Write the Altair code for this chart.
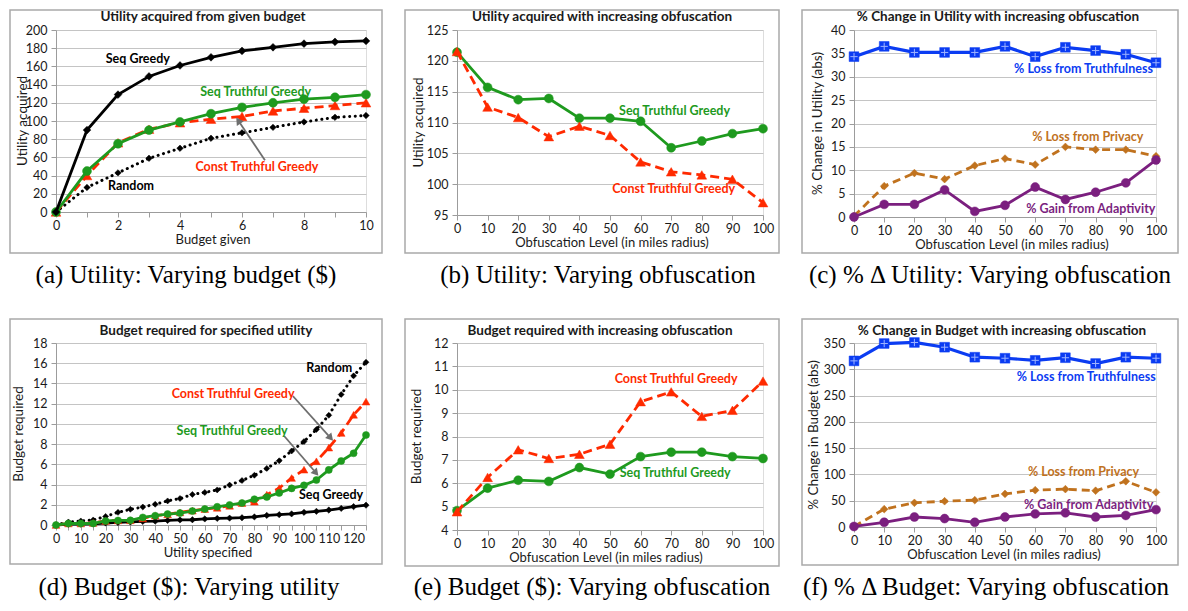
import math
import altair as alt
import pandas as pd

SANS = "Lato"
SERIF = "Liberation Serif"
GRID = "#c4c4c4"
AXIS = "#9c9c9c"
FRAME = "#a9a9a9"
LABEL = "#1a1a1a"
BLACK = "#000000"
GREEN = "#1e9a1e"
RED = "#ff2a00"
BLUE = "#0b3cf2"
BROWN = "#c0721e"
PURPLE = "#7b1f7f"
ARROW = "#6e6e6e"

# ---------------- data ----------------
budget = list(range(11))
a_seq_greedy = [0, 90, 129, 149, 161, 170, 177, 181, 185, 187, 188]
a_seq_truthful = [0, 45, 75, 90, 99, 108, 115, 120, 124, 126, 129]
a_const_truthful = [0, 40, 76, 91, 98, 102, 105, 111, 114, 117, 120]
a_random = [0, 27, 43, 59, 70, 81, 87, 93, 99, 104, 106]

obf = list(range(0, 101, 10))
b_seq_truthful = [121.4, 115.7, 113.7, 113.9, 110.7, 110.7, 110.2, 105.9, 107.0, 108.2, 109.0]
b_const_truthful = [121.5, 112.5, 110.8, 107.7, 109.4, 107.9, 103.6, 102.0, 101.5, 100.8, 97.0]

c_truthfulness = [34.3, 36.5, 35.2, 35.2, 35.2, 36.5, 34.3, 36.3, 35.6, 34.8, 33.0]
c_privacy = [0.2, 6.6, 9.4, 8.1, 11.0, 12.5, 11.2, 15.0, 14.4, 14.4, 13.0]
c_adaptivity = [0.0, 2.7, 2.7, 5.8, 1.2, 2.5, 6.4, 3.75, 5.3, 7.3, 12.2]

utility = list(range(0, 126, 5))
d_random = [0, 0.3, 0.4, 0.5, 0.85, 1.25, 1.55, 1.78, 2.05, 2.38, 2.62, 3.02, 3.22,
            3.47, 3.95, 4.4, 4.92, 5.6, 6.35, 7.32, 8.25, 9.45, 10.85, 12.9, 14.75, 16.1]
d_const_truthful = [0, 0.15, 0.15, 0.2, 0.4, 0.45, 0.46, 0.66, 0.92, 1.05, 1.25, 1.42, 1.58,
                    1.7, 1.9, 2.17, 2.3, 3.0, 3.65, 4.65, 5.47, 6.3, 7.65, 9.1, 10.9, 12.2]
d_seq_truthful = [0, 0.15, 0.15, 0.15, 0.4, 0.45, 0.46, 0.75, 0.92, 1.08, 1.18, 1.38, 1.58,
                  1.8, 1.98, 2.17, 2.55, 2.77, 3.17, 3.62, 3.92, 4.45, 5.45, 6.33, 7.09, 8.9]
d_seq_greedy = [0, 0.08, 0.1, 0.12, 0.2, 0.25, 0.3, 0.35, 0.38, 0.45, 0.5, 0.52, 0.6,
                0.65, 0.68, 0.72, 0.8, 0.95, 1.02, 1.1, 1.25, 1.35, 1.48, 1.64, 1.82, 1.96]

e_const_truthful = [4.78, 6.25, 7.43, 7.06, 7.24, 7.67, 9.49, 9.91, 8.86, 9.12, 10.37]
e_seq_truthful = [4.83, 5.79, 6.13, 6.08, 6.67, 6.39, 7.14, 7.33, 7.33, 7.14, 7.06]

f_truthfulness = [316, 349, 351, 342, 323, 321, 317, 322, 311, 323, 321]
f_privacy = [1, 34, 46, 49, 51, 63, 70, 72, 69, 87, 66]
f_adaptivity = [1, 9, 19, 16, 9, 19, 25, 27, 19, 22, 33]

ONE = pd.DataFrame({"k": [0]})


def txt(text, px, py, size, weight="normal", font=SANS, angle=None, color=LABEL, baseline="middle"):
    kw = dict(font=font, fontSize=size, fontWeight=weight, color=color, align="center", baseline=baseline)
    if angle is not None:
        kw["angle"] = angle
    return alt.Chart(ONE).mark_text(**kw).encode(x=alt.value(px), y=alt.value(py), text=alt.value(text))


def make_panel(p):
    L, T, W, H = p["box"]
    xdom, ydom = p["xdom"], p["ydom"]
    xkw = dict(values=p["xticks"], title=None, grid=False, domainColor=AXIS, domainWidth=1,
               tickColor=AXIS, tickSize=5, labelFont=SANS, labelFontSize=12.5, labelColor=LABEL,
               labelPadding=2, labelFlush=False, labelOverlap=False)
    if p.get("xlabelexpr"):
        xkw["labelExpr"] = p["xlabelexpr"]
    xe = alt.X("x:Q", scale=alt.Scale(domain=xdom, nice=False, zero=False), axis=alt.Axis(**xkw))
    ye = alt.Y("y:Q", scale=alt.Scale(domain=ydom, nice=False, zero=False),
               axis=alt.Axis(values=p["yticks"], title=None, grid=True, gridColor=GRID, gridWidth=1,
                             domainColor=AXIS, tickColor=AXIS, tickSize=5, labelFont=SANS,
                             labelFontSize=12.5, labelColor=LABEL, labelPadding=4,
                             labelOverlap=False, labelFlush=False))

    def topx(x, y):
        px = (x - xdom[0]) / (xdom[1] - xdom[0]) * W
        py = H - (y - ydom[0]) / (ydom[1] - ydom[0]) * H
        return px, py

    def todata(px, py):
        x = xdom[0] + px / W * (xdom[1] - xdom[0])
        y = ydom[0] + (H - py) / H * (ydom[1] - ydom[0])
        return x, y

    layers = []
    fx0, fx1, fy0, fy1 = p["frame"]
    layers.append(alt.Chart(ONE).mark_rect(fillOpacity=0, stroke=FRAME, strokeWidth=1.5).encode(
        x=alt.value(fx0 - L), x2=alt.value(fx1 - L), y=alt.value(fy0 - T), y2=alt.value(fy1 - T)))

    for s in p["series"]:
        df = pd.DataFrame({"x": s["x"], "y": s["y"]})
        lkw = dict(color=s["color"], strokeWidth=s.get("width", 2.8))
        if s.get("dash"):
            lkw["strokeDash"] = s["dash"]
        if s.get("cap"):
            lkw["strokeCap"] = s["cap"]
        layers.append(alt.Chart(df).mark_line(**lkw).encode(x=xe, y=ye))
        layers.append(alt.Chart(df).mark_point(shape=s["shape"], size=s["size"], filled=True,
                                                color=s["color"], opacity=1,
                                                stroke=s.get("mstroke", s["color"]),
                                                strokeWidth=s.get("msw", 0.5)).encode(x=xe, y=ye))
        if s.get("cross"):
            layers.append(alt.Chart(df).mark_point(shape="M-0.75,0L0.75,0M0,-0.75L0,0.75",
                                                    size=s["size"], filled=False, stroke="#9fb4ff",
                                                    strokeWidth=1, opacity=1).encode(x=xe, y=ye))

    for (x1, y1, x2, y2) in p.get("arrows", []):
        p1 = topx(x1, y1)
        p2 = topx(x2, y2)
        dx, dy = p2[0] - p1[0], p2[1] - p1[1]
        ln = math.hypot(dx, dy)
        ux, uy = dx / ln, dy / ln
        ang = math.degrees(math.atan2(dx, -dy)) % 360
        hx, hy = todata(p2[0] - ux * 4, p2[1] - uy * 4)
        ex, ey = todata(p2[0] - ux * 6, p2[1] - uy * 6)
        adf = pd.DataFrame({"x": [x1, ex], "y": [y1, ey]})
        layers.append(alt.Chart(adf).mark_line(color=ARROW, strokeWidth=1.8).encode(x=xe, y=ye))
        hdf = pd.DataFrame({"x": [hx], "y": [hy]})
        layers.append(alt.Chart(hdf).mark_point(shape="triangle", size=70, filled=True, color=ARROW,
                                                 opacity=1, angle=ang).encode(x=xe, y=ye))

    for (t, x, y, c) in p["notes"]:
        ndf = pd.DataFrame({"x": [x], "y": [y], "t": [t]})
        layers.append(alt.Chart(ndf).mark_text(font=SANS, fontSize=12.5, fontWeight="bold", color=c,
                                                align="center", baseline="middle").encode(
            x=xe, y=ye, text="t:N"))

    tx, ty = p["title_pos"]
    layers.append(txt(p["title"], tx - L, ty - T, 13.5, weight="bold"))
    layers.append(txt(p["ytitle"], p["ytitle_x"] - L, H / 2, 13.5, angle=270))
    layers.append(txt(p["xtitle"], (p["frame"][0] + p["frame"][1]) / 2 - L + p.get("xtitle_dx", 0),
                      H + 28, 13))
    cx, cy = p["caption_pos"]
    layers.append(txt(p["caption"], cx - L, cy - T, 25, font=SERIF, color="#000000",
                      baseline="alphabetic"))

    return alt.layer(*layers).properties(width=W, height=H)


R2 = 3  # extra downward shift of the second row
panels = [
    dict(box=(54, 28, 310, 182), xdom=[0, 10], ydom=[0, 200], xticks=budget,
         xlabelexpr="datum.value % 2 == 0 ? datum.label : ''", yticks=list(range(0, 201, 20)),
         series=[
             dict(x=budget, y=a_random, color=BLACK, dash=[0.1, 5.5], cap="round", width=3,
                  shape="diamond", size=42),
             dict(x=budget, y=a_const_truthful, color=RED, dash=[9, 5], shape="triangle-up", size=95),
             dict(x=budget, y=a_seq_truthful, color=GREEN, shape="circle", size=80),
             dict(x=budget, y=a_seq_greedy, color=BLACK, shape="diamond", size=60),
         ],
         arrows=[(6.74, 57, 5.83, 103)],
         notes=[("Seq Greedy", 2.64, 168, BLACK), ("Seq Truthful Greedy", 6.44, 131.5, GREEN),
                ("Const Truthful Greedy", 6.48, 49.5, RED), ("Random", 2.42, 29, BLACK)],
         frame=(8, 380, 8, 251), title="Utility acquired from given budget", title_pos=(201, 15),
         ytitle="Utility acquired", ytitle_x=21, xtitle="Budget given", xtitle_dx=17,
         caption="(a) Utility: Varying budget ($)", caption_pos=(184, 281)),
    dict(box=(455, 28, 306, 185), xdom=[0, 100], ydom=[95, 125], xticks=obf,
         yticks=list(range(95, 126, 5)),
         series=[
             dict(x=obf, y=b_seq_truthful, color=GREEN, shape="circle", size=80),
             dict(x=obf, y=b_const_truthful, color=RED, dash=[9, 5], shape="triangle-up", size=95),
         ],
         notes=[("Seq Truthful Greedy", 71.1, 111.8, GREEN), ("Const Truthful Greedy", 70.8, 99.2, RED)],
         frame=(403, 777, 8, 251), title="Utility acquired with increasing obfuscation", title_pos=(600, 15),
         ytitle="Utility acquired", ytitle_x=417, xtitle="Obfuscation Level (in miles radius)",
         xtitle_dx=20, caption="(b) Utility: Varying obfuscation", caption_pos=(596, 281)),
    dict(box=(852, 28, 302, 187), xdom=[0, 100], ydom=[0, 40], xticks=obf,
         yticks=list(range(0, 41, 5)),
         series=[
             dict(x=obf, y=c_truthfulness, color=BLUE, shape="square", size=95, cross=True, width=3.2),
             dict(x=obf, y=c_privacy, color=BROWN, dash=[8, 5], shape="diamond", size=60),
             dict(x=obf, y=c_adaptivity, color=PURPLE, shape="circle", size=80),
         ],
         notes=[("% Loss from Truthfulness", 76, 31.7, BLUE), ("% Loss from Privacy", 77.4, 17.2, BROWN),
                ("% Gain from Adaptivity", 78.4, 1.7, PURPLE)],
         frame=(800, 1176, 8, 251), title="% Change in Utility with increasing obfuscation", title_pos=(996, 15),
         ytitle="% Change in Utility (abs)", ytitle_x=816, xtitle="Obfuscation Level (in miles radius)",
         xtitle_dx=22, caption="(c) % \u0394 Utility: Varying obfuscation", caption_pos=(988, 281)),
    dict(box=(54, 338 + R2, 310, 182), xdom=[0, 125], ydom=[0, 18], xticks=utility,
         xlabelexpr="datum.value % 10 == 0 ? datum.label : ''", yticks=list(range(0, 19, 2)),
         series=[
             dict(x=utility, y=d_seq_greedy, color=BLACK, shape="diamond", size=40),
             dict(x=utility, y=d_random, color=BLACK, dash=[0.1, 5.5], cap="round", width=3,
                  shape="diamond", size=36),
             dict(x=utility, y=d_const_truthful, color=RED, dash=[9, 5], shape="triangle-up", size=60),
             dict(x=utility, y=d_seq_truthful, color=GREEN, shape="circle", size=50),
         ],
         arrows=[(95.5, 12.76, 111.5, 8.4), (92, 8.8, 105.6, 4.94)],
         notes=[("Random", 110.2, 15.56, BLACK), ("Const Truthful Greedy", 71.4, 12.93, RED),
                ("Seq Truthful Greedy", 71, 9.3, GREEN), ("Seq Greedy", 110.9, 2.94, BLACK)],
         frame=(8, 380, 314 + R2, 559 + R2), title="Budget required for specified utility",
         title_pos=(204, 326 + R2), ytitle="Budget required", ytitle_x=17, xtitle="Utility specified",
         xtitle_dx=12, caption="(d) Budget ($): Varying utility", caption_pos=(187, 590 + R2)),
    dict(box=(455, 338 + R2, 306, 187), xdom=[0, 100], ydom=[4, 12], xticks=obf,
         yticks=list(range(4, 13)),
         series=[
             dict(x=obf, y=e_seq_truthful, color=GREEN, shape="circle", size=80),
             dict(x=obf, y=e_const_truthful, color=RED, dash=[9, 5], shape="triangle-up", size=95),
         ],
         notes=[("Const Truthful Greedy", 71.6, 10.44, RED), ("Seq Truthful Greedy", 71.3, 6.43, GREEN)],
         frame=(403, 777, 314 + R2, 561 + R2), title="Budget required with increasing obfuscation",
         title_pos=(598, 326 + R2), ytitle="Budget required", ytitle_x=415,
         xtitle="Obfuscation Level (in miles radius)", xtitle_dx=14,
         caption="(e) Budget ($): Varying obfuscation", caption_pos=(590, 590 + R2)),
    dict(box=(852, 338 + R2, 302, 184), xdom=[0, 100], ydom=[0, 350], xticks=obf,
         yticks=list(range(0, 351, 50)),
         series=[
             dict(x=obf, y=f_truthfulness, color=BLUE, shape="square", size=95, cross=True, width=3.2),
             dict(x=obf, y=f_privacy, color=BROWN, dash=[8, 5], shape="diamond", size=60),
             dict(x=obf, y=f_adaptivity, color=PURPLE, shape="circle", size=80),
         ],
         notes=[("% Loss from Truthfulness", 76.9, 285, BLUE), ("% Loss from Privacy", 76, 104, BROWN),
                ("% Gain from Adaptivity", 77.7, 42, PURPLE)],
         frame=(800, 1176, 314 + R2, 560 + R2), title="% Change in Budget with increasing obfuscation",
         title_pos=(1000, 326 + R2), ytitle="% Change in Budget (abs)", ytitle_x=812,
         xtitle="Obfuscation Level (in miles radius)", xtitle_dx=14,
         caption="(f) % \u0394 Budget: Varying obfuscation", caption_pos=(984, 590 + R2)),
]

charts = [make_panel(p) for p in panels]

chart = alt.concat(*charts, columns=3, spacing={"row": 123 + R2, "column": 91}, bounds="flush",
                   padding=0).configure_view(stroke=None).configure(background="white")

chart.save("out.html", embed_options={"renderer": "svg", "actions": False})
